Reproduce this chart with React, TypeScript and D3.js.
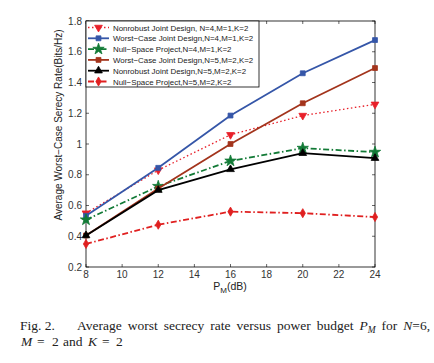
import * as d3 from 'd3'
import { useMemo } from 'react'

const X_VALUES = [8, 12, 16, 20, 24]
const X_TICKS = [8, 10, 12, 14, 16, 18, 20, 22, 24]
const Y_TICKS = [0.2, 0.4, 0.6, 0.8, 1.0, 1.2, 1.4, 1.6, 1.8]

const nonrobustN4 = [0.55, 0.83, 1.06, 1.185, 1.258]
const worstCaseN4 = [0.533, 0.845, 1.185, 1.46, 1.676]
const nullSpaceN4 = [0.507, 0.725, 0.89, 0.973, 0.947]
const worstCaseN5 = [0.405, 0.71, 1.0, 1.265, 1.494]
const nonrobustN5 = [0.405, 0.70, 0.835, 0.94, 0.908]
const nullSpaceN5 = [0.35, 0.475, 0.56, 0.55, 0.525]

type Marker = 'tri' | 'square' | 'star' | 'diamond' | 'triup'

interface Series {
  label: string
  values: number[]
  color: string
  dash: string
  marker: Marker
}

const DOT = '1.5,2.5'
const DASHDOT = '6,2.5,1.5,2.5'

const SERIES: Series[] = [
  { label: 'Nonrobust Joint Design, N=4,M=1,K=2', values: nonrobustN4, color: '#e8202a', dash: DOT, marker: 'tri' },
  { label: 'Worst\u2212Case Joint Design,N=4,M=1,K=2', values: worstCaseN4, color: '#3556a8', dash: 'none', marker: 'square' },
  { label: 'Null\u2212Space Project,N=4,M=1,K=2', values: nullSpaceN4, color: '#127a36', dash: DASHDOT, marker: 'star' },
  { label: 'Worst\u2212Case Joint Design,N=5,M=2,K=2', values: worstCaseN5, color: '#a3341c', dash: 'none', marker: 'square' },
  { label: 'Nonrobust Joint Design,N=5,M=2,K=2', values: nonrobustN5, color: '#000000', dash: 'none', marker: 'triup' },
  { label: 'Null\u2212Space Project,N=5,M=2,K=2', values: nullSpaceN5, color: '#e02020', dash: DASHDOT, marker: 'diamond' },
]

const CAPTION_WORDS = ['Average', 'worst', 'secrecy', 'rate', 'versus', 'power', 'budget', 'PM', 'for', 'N=6,']

const LEFT = 86
const RIGHT = 375
const TOP = 21
const BOTTOM = 267

const CAP_SIZE = 13.5
const SERIF = '"Liberation Serif", "Times New Roman", serif'

const x = d3.scaleLinear().domain([8, 24]).range([LEFT, RIGHT])
const y = d3.scaleLinear().domain([0.2, 1.8]).range([BOTTOM, TOP])

function markerPath(m: Marker) {
  switch (m) {
    case 'tri':
    case 'triup':
      return d3.symbol(d3.symbolTriangle, 26)()
    case 'square':
      return d3.symbol(d3.symbolSquare, 24)()
    case 'star':
      return d3.symbol(d3.symbolStar, 40)()
    case 'diamond':
      return d3.symbol(d3.symbolDiamond, 24)()
  }
}

function MarkerShape({ m, color, cx, cy }: { m: Marker; color: string; cx: number; cy: number }) {
  const rot = m === 'tri' ? 180 : 0
  return (
    <path
      d={markerPath(m) || ''}
      transform={`translate(${cx},${cy}) rotate(${rot})`}
      fill={color}
      stroke={color}
      strokeWidth={0.8}
    />
  )
}

// width of a caption word, measured with a canvas so the line can be justified
function wordWidth(ctx: CanvasRenderingContext2D | null, w: string) {
  if (!ctx) return w.length * CAP_SIZE * 0.45
  const roman = `${CAP_SIZE}px "Liberation Serif"`
  const italic = `italic ${CAP_SIZE}px "Liberation Serif"`
  if (w === 'PM') {
    ctx.font = italic
    const p = ctx.measureText('P').width
    ctx.font = `italic ${CAP_SIZE * 0.7}px "Liberation Serif"`
    return p + ctx.measureText('M').width
  }
  if (w === 'N=6,') {
    ctx.font = italic
    const n = ctx.measureText('N').width
    ctx.font = roman
    return n + ctx.measureText('=6,').width
  }
  ctx.font = roman
  return ctx.measureText(w).width
}

function Caption() {
  const xs = useMemo(() => {
    const ctx = document.createElement('canvas').getContext('2d')
    const widths = CAPTION_WORDS.map(w => wordWidth(ctx, w))
    const start = 77
    const end = 430
    const gap = (end - start - d3.sum(widths)) / (CAPTION_WORDS.length - 1)
    let cur = start
    return widths.map(wd => {
      const pos = cur
      cur += wd + gap
      return pos
    })
  }, [])

  const y1 = 330
  const y2 = 346
  return (
    <g fontFamily={SERIF} fontSize={CAP_SIZE} fill="#222">
      <text y={y1}>
        <tspan x={20}>Fig. 2.</tspan>
        {CAPTION_WORDS.map((w, i) => {
          if (w === 'PM') {
            return (
              <tspan key={i} x={xs[i]} y={y1} fontStyle="italic">
                P<tspan fontSize={CAP_SIZE * 0.7} dy={2.5}>M</tspan>
              </tspan>
            )
          }
          if (w === 'N=6,') {
            return (
              <tspan key={i} x={xs[i]} y={y1}>
                <tspan fontStyle="italic">N</tspan>=6,
              </tspan>
            )
          }
          return <tspan key={i} x={xs[i]} y={y1}>{w}</tspan>
        })}
      </text>
      <text y={y2}>
        <tspan x={21} fontStyle="italic">M</tspan>
        <tspan x={37}>=</tspan>
        <tspan x={52}>2</tspan>
        <tspan x={63}>and</tspan>
        <tspan x={88} fontStyle="italic">K</tspan>
        <tspan x={102}>=</tspan>
        <tspan x={116}>2</tspan>
      </text>
    </g>
  )
}

export default function App() {
  const line = d3.line<number>()
    .x((_, i) => x(X_VALUES[i]))
    .y(d => y(d))

  const axisFont = '"Liberation Sans", Arial, sans-serif'

  return (
    <svg width={434} height={363} style={{ position: 'absolute', left: 0, top: 0, background: '#fff' }}>
      <rect x={0} y={0} width={434} height={363} fill="#fff" />
      <rect x={LEFT} y={TOP} width={RIGHT - LEFT} height={BOTTOM - TOP} fill="#fff" stroke="#000" strokeWidth={0.8} />

      {/* ticks */}
      {X_TICKS.map(t => (
        <g key={`xt${t}`}>
          <line x1={x(t)} x2={x(t)} y1={BOTTOM} y2={BOTTOM - 3} stroke="#000" strokeWidth={0.6} />
          <line x1={x(t)} x2={x(t)} y1={TOP} y2={TOP + 3} stroke="#000" strokeWidth={0.6} />
          <text x={x(t)} y={BOTTOM + 11} textAnchor="middle" fontSize={10} fontFamily={axisFont} fill="#333">{t}</text>
        </g>
      ))}
      {Y_TICKS.map(t => (
        <g key={`yt${t}`}>
          <line x1={LEFT} x2={LEFT + 3} y1={y(t)} y2={y(t)} stroke="#000" strokeWidth={0.6} />
          <line x1={RIGHT} x2={RIGHT - 3} y1={y(t)} y2={y(t)} stroke="#000" strokeWidth={0.6} />
          <text x={LEFT - 4} y={y(t) + 3.5} textAnchor="end" fontSize={10} fontFamily={axisFont} fill="#333">
            {Number.isInteger(t) ? t.toFixed(0) : t.toFixed(1)}
          </text>
        </g>
      ))}

      {/* series */}
      {SERIES.map(s => (
        <g key={s.label}>
          <path d={line(s.values) || ''} fill="none" stroke={s.color} strokeWidth={s.dash === DOT ? 1.3 : 1.8} strokeDasharray={s.dash} />
          {s.values.map((v, i) => (
            <MarkerShape key={i} m={s.marker} color={s.color} cx={x(X_VALUES[i])} cy={y(v)} />
          ))}
        </g>
      ))}

      {/* legend */}
      <rect x={LEFT} y={TOP} width={173} height={66} fill="#fff" stroke="#000" strokeWidth={0.8} />
      {SERIES.map((s, i) => {
        const ly = TOP + 6.5 + i * 10.8
        return (
          <g key={`lg${i}`}>
            <line x1={LEFT + 2} x2={LEFT + 23} y1={ly} y2={ly} stroke={s.color} strokeWidth={s.dash === DOT ? 1.3 : 1.8} strokeDasharray={s.dash} />
            <MarkerShape m={s.marker} color={s.color} cx={LEFT + 12.5} cy={ly} />
            <text x={LEFT + 27} y={ly + 3} fontSize={7.9} fontFamily={axisFont} fill="#222">{s.label}</text>
          </g>
        )
      })}

      {/* axis labels */}
      <text x={230} y={290} textAnchor="middle" fontSize={10.5} fontFamily={axisFont} fill="#222">
        P<tspan fontSize={8} dy={3}>M</tspan><tspan dy={-3}>(dB)</tspan>
      </text>
      <text transform="translate(62,125) rotate(-90)" textAnchor="middle" fontSize={10} fontFamily={axisFont} fill="#222">
        Average Worst{'\u2212'}Case Serecy Rate(Bits/Hz)
      </text>

      <Caption />
    </svg>
  )
}
